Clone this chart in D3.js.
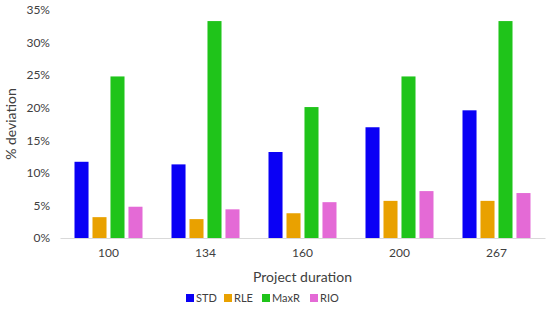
<!DOCTYPE html>
<html>
<head>
<meta charset="utf-8">
<script src="https://cdn.jsdelivr.net/npm/d3@7"></script>
<style>
  body { margin: 0; background: #fff; }
  text { font-family: Lato, "Open Sans", sans-serif; fill: #404040; }
</style>
</head>
<body>
<script>
// chart values
var durations = ["100", "134", "160", "200", "267"];
var seriesNames = ["STD", "RLE", "MaxR", "RIO"];
var stdVals  = [11.7, 11.3, 13.2, 17.0, 19.6];
var rleVals  = [3.2, 2.9, 3.8, 5.7, 5.7];
var maxrVals = [24.8, 33.3, 20.1, 24.8, 33.3];
var rioVals  = [4.8, 4.4, 5.5, 7.2, 6.9];
var yTicks = [0, 5, 10, 15, 20, 25, 30, 35];
var colors = ["#0a00f5", "#e9a100", "#1fc41a", "#e46ad6"];

var allVals = [stdVals, rleVals, maxrVals, rioVals];

var w = 550, h = 329;
var margin = {top: 10, right: 5, bottom: 91, left: 60};

var svg = d3.select("body").append("svg")
    .attr("width", w)
    .attr("height", h);

var x = d3.scaleBand()
    .domain(durations)
    .range([margin.left, w - margin.right]);

var x1 = d3.scaleBand()
    .domain(seriesNames)
    .range([0, 68])
    .paddingInner(0.22);

var y = d3.scaleLinear()
    .domain([0, 35])
    .range([h - margin.bottom, margin.top]);

// axes
var yAxis = d3.axisLeft(y)
    .tickValues(yTicks)
    .tickSize(0)
    .tickPadding(10)
    .tickFormat(function(d) { return d + "%"; });

var gy = svg.append("g")
    .attr("transform", "translate(" + margin.left + ",0)")
    .call(yAxis);
gy.select(".domain").remove();
gy.selectAll("text").style("font-size", "12px").attr("fill", "#404040");

var xAxis = d3.axisBottom(x).tickSize(0).tickPadding(10);
var gx = svg.append("g")
    .attr("transform", "translate(0," + y(0) + ")")
    .call(xAxis);
gx.select(".domain").attr("stroke", "#d9d9d9");
gx.selectAll("text").style("font-size", "12px").attr("fill", "#404040");

// bars
var rows = [];
durations.forEach(function(d, i) {
  seriesNames.forEach(function(s, j) {
    rows.push({cat: d, series: s, value: allVals[j][i], idx: j});
  });
});

svg.selectAll(".bar")
    .data(rows)
    .enter()
    .append("rect")
    .attr("class", "bar")
    .attr("x", function(d) { return x(d.cat) + (x.bandwidth() - 68) / 2 + x1(d.series); })
    .attr("width", x1.bandwidth())
    .attr("y", function(d) { return y(d.value); })
    .attr("height", function(d) { return y(0) - y(d.value); })
    .attr("fill", function(d) { return colors[d.idx]; });

// axis titles
svg.append("text")
    .attr("x", (margin.left + w - margin.right) / 2)
    .attr("y", 282)
    .attr("text-anchor", "middle")
    .style("font-size", "14px")
    .text("Project duration");

svg.append("text")
    .attr("transform", "translate(16," + ((margin.top + y(0)) / 2) + ") rotate(-90)")
    .attr("text-anchor", "middle")
    .style("font-size", "14px")
    .text("% deviation");

// legend
var legW = [38, 38, 48, 32];
var legX = 186;
var leg = svg.append("g").attr("transform", "translate(0,298)");
seriesNames.forEach(function(s, j) {
  var gx0 = legX + d3.sum(legW.slice(0, j));
  leg.append("rect")
    .attr("x", gx0)
    .attr("y", -4)
    .attr("width", 8)
    .attr("height", 8)
    .attr("fill", colors[j]);
  leg.append("text")
    .attr("x", gx0 + 10)
    .attr("y", 4)
    .style("font-size", "11px")
    .text(s);
});
</script>
</body>
</html>
